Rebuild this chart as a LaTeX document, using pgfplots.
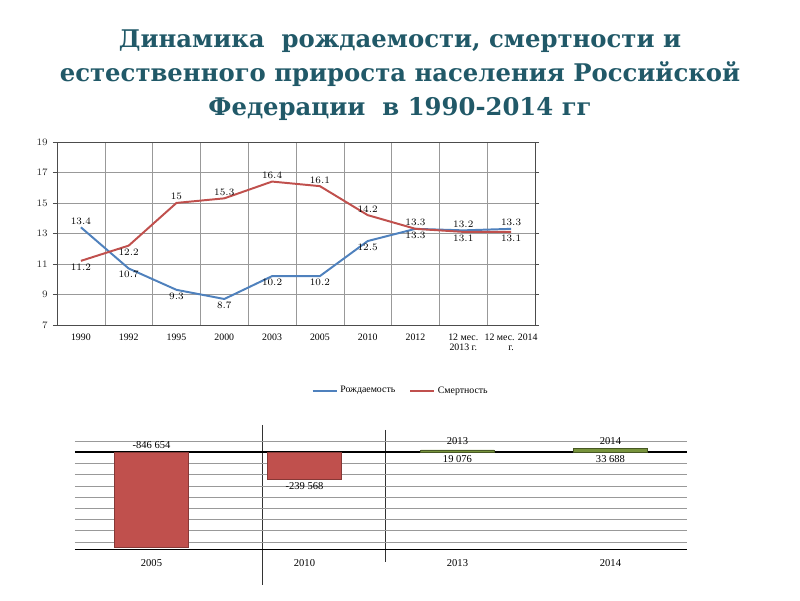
\documentclass[border=0pt]{standalone}
\usepackage{fontspec}
\setmainfont{Liberation Serif}
\newfontfamily\titlefont{DejaVu Serif}
\usepackage{pgfplots}
\pgfplotsset{compat=1.18}
\usepackage{pgfplotstable}

\definecolor{titleteal}{HTML}{215968}
\definecolor{birthblue}{HTML}{4F81BD}
\definecolor{deathred}{HTML}{C0504D}
\definecolor{bargreen}{HTML}{77933C}

% rates per 1000 population
\pgfplotstableread{
x birth death
0 13.4 11.2
1 10.7 12.2
2 9.3  15.0
3 8.7  15.3
4 10.2 16.4
5 10.2 16.1
6 12.5 14.2
7 13.3 13.3
8 13.2 13.1
9 13.3 13.1
}\rates

\pgfplotsset{
  lbl/.style={forget plot, draw=none, mark=none, nodes near coords, point meta=y,
    every node near coord/.append style={font=\bfseries\fontsize{7.5}{8}\selectfont, inner sep=2pt}},
  lblbelow/.style={lbl, every node near coord/.append style={anchor=north}},
}

\begin{document}
\begin{tikzpicture}
\useasboundingbox (0,0) rectangle (20,15);

\node[font=\titlefont\bfseries\fontsize{17.3}{24}\selectfont, text=titleteal, align=center]
  at (10,13.12) {Динамика \ рождаемости, смертности и\\естественного прироста населения Российской\\Федерации \ в 1990-2014 гг};

\begin{axis}[
  at={(57*0.025cm,15cm-325*0.025cm)}, anchor=south west,
  width=11.95cm, height=4.575cm, scale only axis,
  xmin=-0.5, xmax=9.5, ymin=7, ymax=19,
  ytick={7,9,...,19},
  xtick={0,...,9},
  xticklabels={1990,1992,1995,2000,2003,2005,2010,2012,{12 мес.\\2013 г.},{12 мес. 2014\\г.}},
  xticklabel style={align=center, font=\fontsize{7}{7}\selectfont},
  yticklabel style={font=\fontsize{7.5}{8}\selectfont, text=gray!30!black},
  minor xtick={0.5,1.5,...,8.5},
  xminorgrids, ymajorgrids,
  major grid style={gray!80},
  minor grid style={gray!80},
  axis line style={gray!60!black},
  ytick style={draw=gray!60!black}, tick align=outside, major tick length=3pt,
  xtick style={draw=none},
  legend style={at={(0.72,-0.36)}, anchor=center, draw=none, legend columns=2,
    font=\fontsize{7}{8}\selectfont, /tikz/every even column/.append style={column sep=8pt}},
  legend image post style={line width=1.2pt},
]
\addplot[birthblue, line width=1.4pt] table[x=x, y=birth] {\rates};
\addlegendentry{Рождаемость}
\addplot[deathred, line width=1.4pt] table[x=x, y=death] {\rates};
\addlegendentry{Смертность}
% value labels
\addplot[lbl] coordinates {(0,13.4) (7,13.3) (8,13.2) (9,13.3)};
\addplot[lblbelow] coordinates {(1,10.7) (2,9.3) (3,8.7) (4,10.2) (5,10.2) (6,12.5)};
\addplot[lbl] coordinates {(2,15) (3,15.3) (4,16.4) (5,16.1) (6,14.2)};
\addplot[lblbelow] coordinates {(0,11.2) (1,12.2) (7,13.3) (8,13.1) (9,13.1)};
\end{axis}

% separators of the lower panel
\draw[gray!40!black] (262*0.025,15-425*0.025) -- (262*0.025,15-585*0.025);
\draw[gray!40!black] (385*0.025,15-430*0.025) -- (385*0.025,15-562*0.025);

\begin{axis}[
  at={(75*0.025cm,15cm-550*0.025cm)}, anchor=south west,
  width=15.3cm, height=2.725cm, scale only axis,
  xmin=-0.5, xmax=3.5, ymin=-870000, ymax=100000,
  scaled y ticks=false,
  ytick={-800000,-700000,...,100000}, yticklabels={},
  ymajorgrids, major grid style={gray!80},
  extra y ticks={-870000,0}, extra y tick labels={},
  extra y tick style={grid=major, major grid style={black, line width=0.9pt}},
  xtick={0,1,2,3}, xticklabels={2005,2010,2013,2014},
  xticklabel style={font=\fontsize{7.5}{8}\selectfont, yshift=-3pt},
  axis line style={draw=none},
  tick style={draw=none},
  bar width=0.48,
  clip=false,
]
\addplot[ybar, bar shift=0pt, fill=deathred, draw=deathred!70!black]
  coordinates {(0,-846654) (1,-239568)};
\addplot[ybar, bar shift=0pt, fill=bargreen, draw=bargreen!60!black]
  coordinates {(2,19076) (3,33688)};
\addplot[draw=none, mark=none, nodes near coords, point meta=explicit symbolic,
  every node near coord/.append style={font=\fontsize{7.5}{8}\selectfont, inner sep=2pt}]
  coordinates {(0,0) [-846 654] (2,40000) [2013] (3,40000) [2014]};
\addplot[draw=none, mark=none, nodes near coords, point meta=explicit symbolic,
  every node near coord/.append style={anchor=north, font=\fontsize{7.5}{8}\selectfont, inner sep=2pt}]
  coordinates {(1,-239568) [-239 568] (2,0) [19 076] (3,0) [33 688]};
\end{axis}
\end{tikzpicture}
\end{document}
